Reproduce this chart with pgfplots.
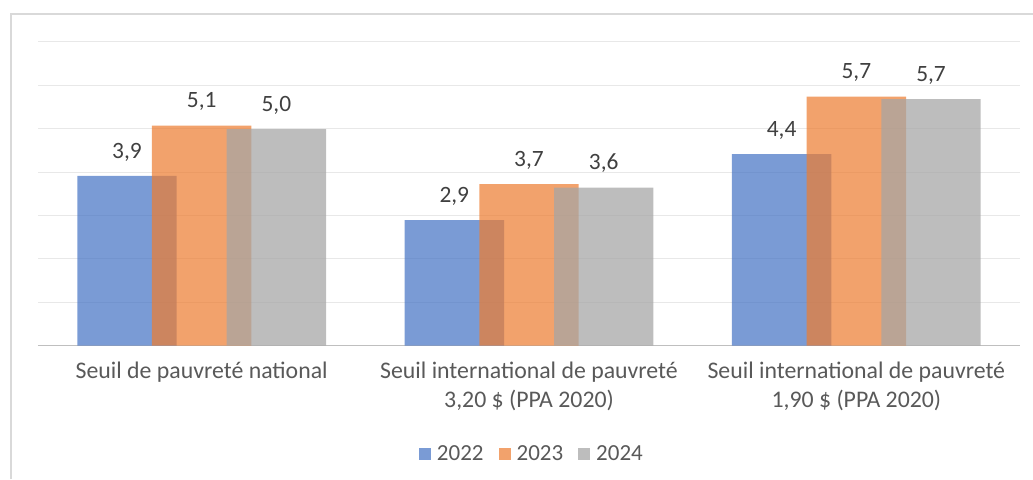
\documentclass[border=0pt]{standalone}
\usepackage{pgfplots}
\pgfplotsset{compat=1.18}
\usepackage{fontspec}
\setmainfont{Carlito}
\definecolor{cblue}{RGB}{68,114,196}
\definecolor{corange}{RGB}{237,125,49}
\definecolor{cgray}{RGB}{165,165,165}
\definecolor{txtgray}{RGB}{89,89,89}
\definecolor{lbl}{RGB}{64,64,64}
\definecolor{gridc}{RGB}{232,232,232}
\definecolor{basec}{RGB}{191,191,191}
\definecolor{framec}{RGB}{217,217,217}
\begin{document}
\begin{tikzpicture}
\useasboundingbox (0,0) rectangle (516.5pt,-239.5pt);
\draw[framec, line width=0.6pt] (5.5pt,-239.5pt) -- (5.5pt,-7pt) -- (516.5pt,-7pt);
\begin{axis}[
  at={(19pt,-172.8pt)}, anchor=south west,
  scale only axis, width=491pt, height=151.9pt,
  xmin=-0.5, xmax=2.5, ymin=0, ymax=7,
  ytick={1,2,3,4,5,6,7}, yticklabels={},
  ymajorgrids, grid style={gridc, line width=0.5pt},
  extra y ticks={0}, extra y tick labels={},
  extra y tick style={grid style={basec, line width=0.8pt}},
  major tick length=0pt,
  axis line style={draw=none},
  xtick={0,1,2},
  xticklabels={{Seuil de pauvreté national},{Seuil international de pauvreté\\3,20 \$ (PPA 2020)},{Seuil international de pauvreté\\1,90 \$ (PPA 2020)}},
  xticklabel style={align=center, font=\fontsize{11.9}{14.5}\selectfont, text=txtgray, anchor=north, yshift=-4.5pt},
  ybar, bar width=49.7pt,
  /pgf/number format/.cd, fixed, fixed zerofill, precision=1, use comma, assume math mode=true,
  /pgfplots/.cd,
  nodes near coords,
  nodes near coords style={font=\fontsize{11.7}{14}\selectfont, text=lbl, anchor=base, inner sep=0pt, yshift=8.85pt},
  legend columns=3,
  legend style={at={(0.505,-0.357)}, anchor=center, draw=none, fill=none,
    font=\fontsize{11.5}{14}\selectfont, text=txtgray,
    nodes={inner xsep=3pt},
    /tikz/every even column/.append style={column sep=4.5pt}},
  legend image code/.code={\fill[#1] (0pt,-3pt) rectangle (6pt,3pt);},
]
\addplot[draw=none, fill=cblue, fill opacity=0.71, text opacity=1, bar shift=-37.35pt] coordinates {(0,3.91) (1,2.89) (2,4.41)};
\addplot[draw=none, fill=corange, fill opacity=0.715, text opacity=1, bar shift=0pt] coordinates {(0,5.07) (1,3.72) (2,5.74)};
\addplot[draw=none, fill=cgray, fill opacity=0.73, text opacity=1, bar shift=37.35pt] coordinates {(0,4.99) (1,3.64) (2,5.68)};
\legend{2022,2023,2024}
\end{axis}
\end{tikzpicture}
\end{document}
